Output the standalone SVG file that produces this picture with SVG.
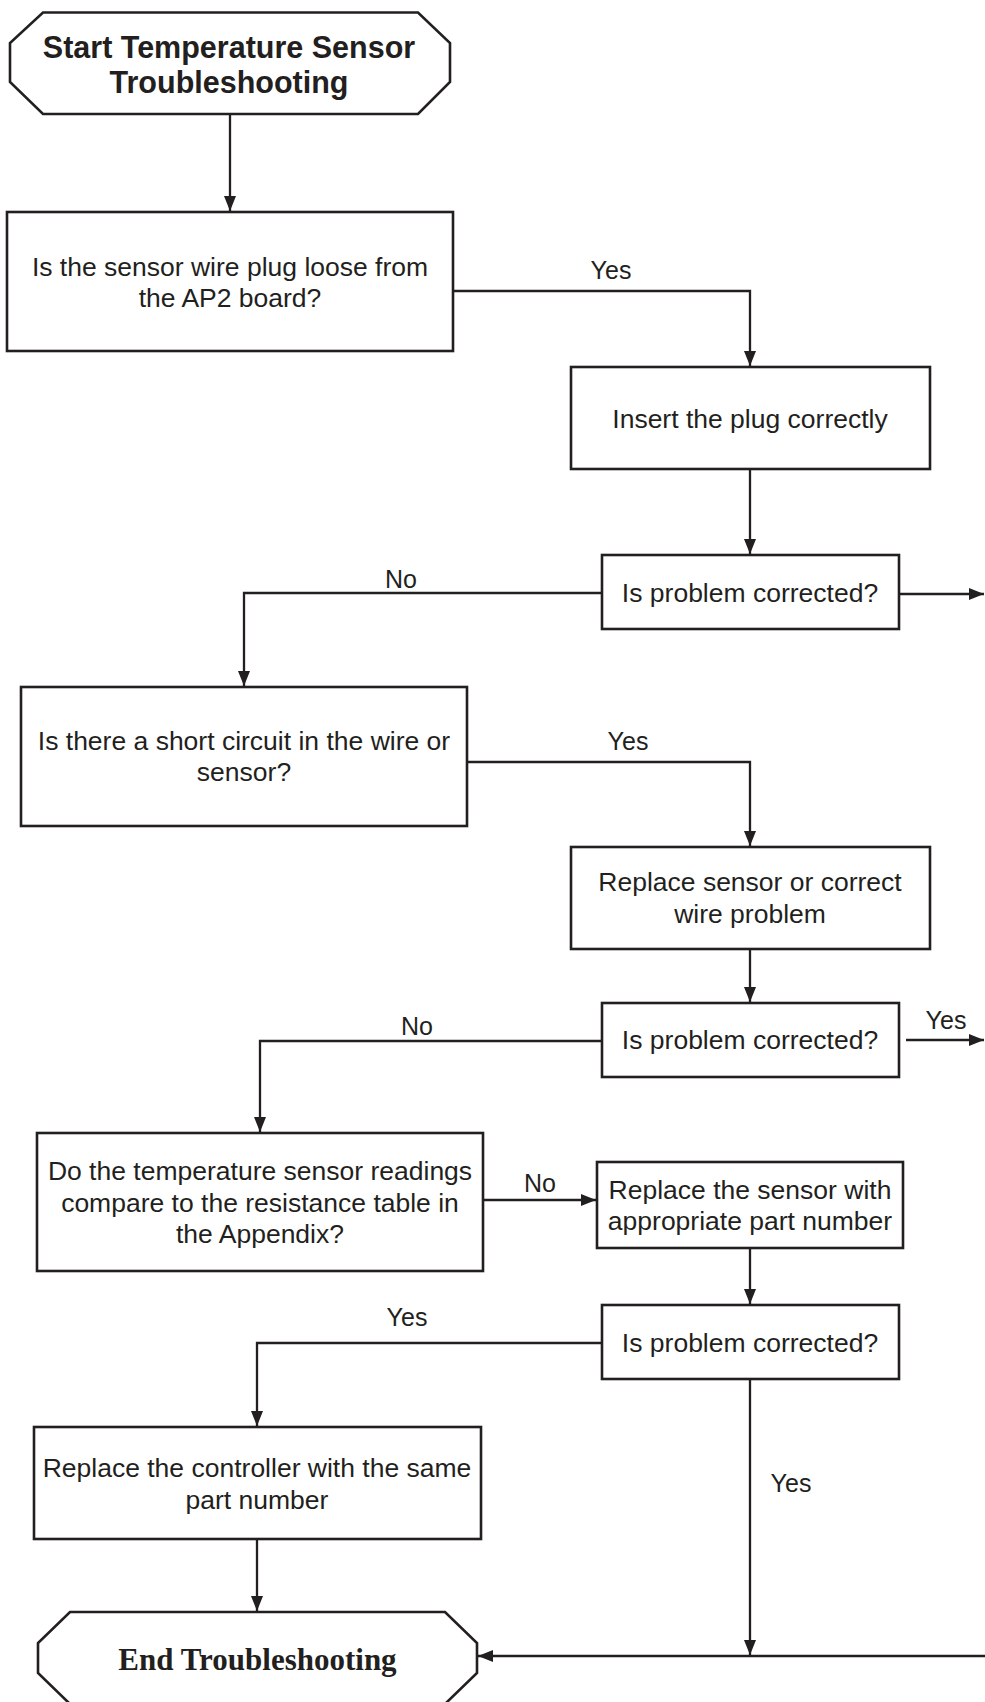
<svg xmlns="http://www.w3.org/2000/svg" width="985" height="1702" viewBox="0 0 985 1702">
<style>
.box{fill:#ffffff;stroke:#231f20;stroke-width:2.6}
.t{font-family:"Liberation Sans",Arial,sans-serif;font-size:26.5px;fill:#231f20;text-anchor:middle}
.lbl{font-family:"Liberation Sans",Arial,sans-serif;font-size:25px;fill:#231f20;text-anchor:middle}
.tb{font-family:"Liberation Sans",Arial,sans-serif;font-size:30.5px;font-weight:bold;fill:#231f20;text-anchor:middle}
.ts{font-family:"Liberation Serif","Times New Roman",serif;font-size:31px;font-weight:bold;fill:#231f20;text-anchor:middle}
.c{fill:none;stroke:#231f20;stroke-width:2.3}
</style>
<defs>
<marker id="ah" markerUnits="userSpaceOnUse" markerWidth="16" markerHeight="14" refX="15" refY="6" orient="auto">
<path d="M0,0 L15,6 L0,12 z" fill="#231f20"/>
</marker>
</defs>
<rect width="985" height="1702" fill="#ffffff"/>
<g id="connectors">
<path class="c" d="M230,114 V211" marker-end="url(#ah)"/>
<path class="c" d="M453,291 H750 V366" marker-end="url(#ah)"/>
<path class="c" d="M750,469 V554" marker-end="url(#ah)"/>
<path class="c" d="M889,594 H984" marker-end="url(#ah)"/>
<path class="c" d="M602,593 H244 V686" marker-end="url(#ah)"/>
<path class="c" d="M467,762 H750 V846" marker-end="url(#ah)"/>
<path class="c" d="M750,949 V1002" marker-end="url(#ah)"/>
<path class="c" d="M906,1040 H984" marker-end="url(#ah)"/>
<path class="c" d="M602,1041 H260 V1132" marker-end="url(#ah)"/>
<path class="c" d="M483,1200 H596" marker-end="url(#ah)"/>
<path class="c" d="M750,1248 V1304" marker-end="url(#ah)"/>
<path class="c" d="M602,1343 H257 V1426" marker-end="url(#ah)"/>
<path class="c" d="M257,1539 V1611" marker-end="url(#ah)"/>
<path class="c" d="M750,1379 V1655" marker-end="url(#ah)"/>
<path class="c" d="M986,1656 H478" marker-end="url(#ah)"/>
<text class="lbl" x="611" y="279">Yes</text>
<text class="lbl" x="401" y="588">No</text>
<text class="lbl" x="628" y="750">Yes</text>
<text class="lbl" x="417" y="1035">No</text>
<text class="lbl" x="946" y="1029">Yes</text>
<text class="lbl" x="540" y="1192">No</text>
<text class="lbl" x="407" y="1326">Yes</text>
<text class="lbl" x="791" y="1492">Yes</text>
</g>
<g id="start">
<polygon class="box" points="43,12.5 418,12.5 450,43 450,82 418,114 43,114 10,82 10,43"/>
<text class="tb" x="229" y="57.5">Start Temperature Sensor</text>
<text class="tb" x="229" y="92.5">Troubleshooting</text>
</g>
<g id="q-plug">
<rect class="box" x="7" y="212" width="446" height="139"/>
<text class="t" x="230" y="276">Is the sensor wire plug loose from</text>
<text class="t" x="230" y="307">the AP2 board?</text>
</g>
<g id="insert-plug">
<rect class="box" x="571" y="367" width="359" height="102"/>
<text class="t" x="750" y="428">Insert the plug correctly</text>
</g>
<g id="check1">
<rect class="box" x="602" y="555" width="297" height="74"/>
<text class="t" x="750" y="602">Is problem corrected?</text>
</g>
<g id="q-short">
<rect class="box" x="21" y="687" width="446" height="139"/>
<text class="t" x="244" y="750">Is there a short circuit in the wire or</text>
<text class="t" x="244" y="781">sensor?</text>
</g>
<g id="replace-wire">
<rect class="box" x="571" y="847" width="359" height="102"/>
<text class="t" x="750" y="891">Replace sensor or correct</text>
<text class="t" x="750" y="923">wire problem</text>
</g>
<g id="check2">
<rect class="box" x="602" y="1003" width="297" height="74"/>
<text class="t" x="750" y="1049">Is problem corrected?</text>
</g>
<g id="q-readings">
<rect class="box" x="37" y="1133" width="446" height="138"/>
<text class="t" x="260" y="1180">Do the temperature sensor readings</text>
<text class="t" x="260" y="1212">compare to the resistance table in</text>
<text class="t" x="260" y="1243">the Appendix?</text>
</g>
<g id="replace-sensor">
<rect class="box" x="597" y="1162" width="306" height="86"/>
<text class="t" x="750" y="1199">Replace the sensor with</text>
<text class="t" x="750" y="1230">appropriate part number</text>
</g>
<g id="check3">
<rect class="box" x="602" y="1305" width="297" height="74"/>
<text class="t" x="750" y="1352">Is problem corrected?</text>
</g>
<g id="replace-controller">
<rect class="box" x="34" y="1427" width="447" height="112"/>
<text class="t" x="257" y="1477">Replace the controller with the same</text>
<text class="t" x="257" y="1509">part number</text>
</g>
<g id="end">
<polygon class="box" points="70,1612 445,1612 477,1643 477,1673 445,1704 70,1704 38,1673 38,1643"/>
<text class="ts" x="257.5" y="1670">End Troubleshooting</text>
</g>
</svg>
